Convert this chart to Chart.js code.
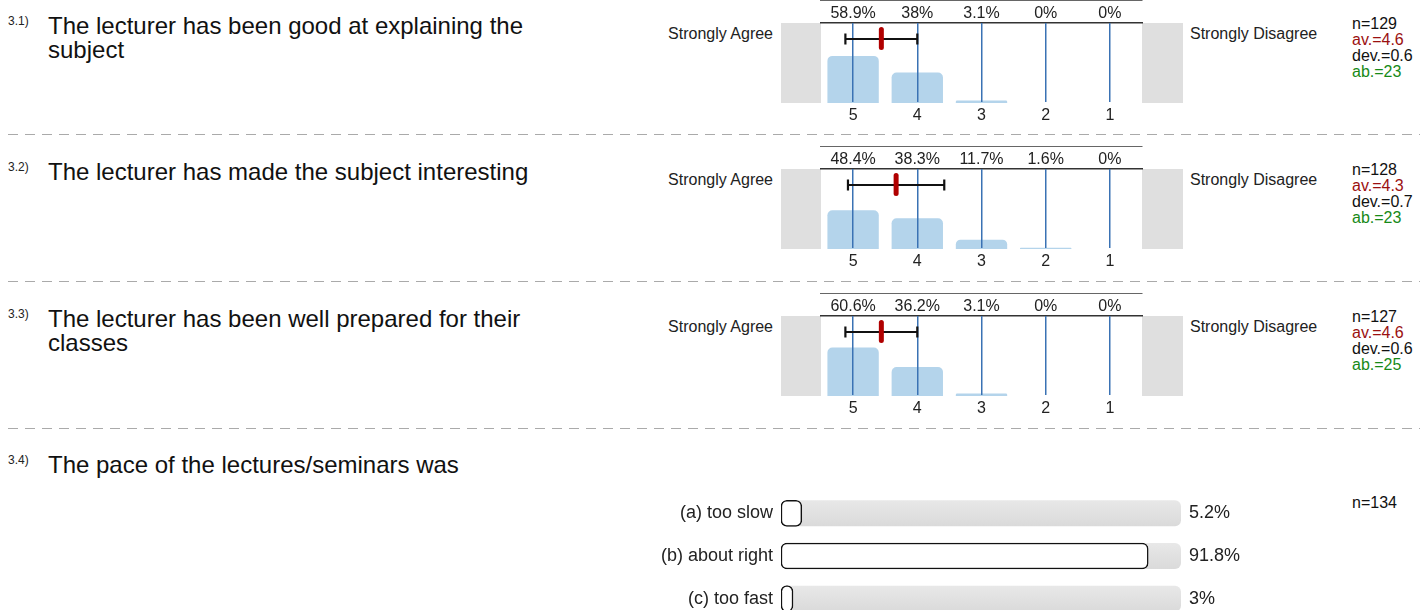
<!DOCTYPE html>
<html>
<head>
<meta charset="utf-8">
<script src="https://cdn.jsdelivr.net/npm/chart.js@4"></script>
<style>
  html, body { margin: 0; padding: 0; background: #fff; }
  body { width: 1420px; height: 610px; overflow: hidden; position: relative;
         font-family: 'Liberation Sans', Arial, sans-serif; color: #111; }
  .abs { position: absolute; white-space: nowrap; }
  .num { font-size: 12px; line-height: 12px; color: #222; }
  .q { font-size: 24px; line-height: 24px; width: 520px; white-space: normal; }
  .side { font-size: 16px; line-height: 16px; color: #222; }
  .stats { font-size: 16px; line-height: 16px; color: #111; }
  .av { color: #9b1010; }
  .ab { color: #178a17; }
  .sep { position: absolute; left: 8px; width: 1412px; height: 1px;
         background: repeating-linear-gradient(to right, #aaa 0 10px, transparent 10px 17px); }
  canvas { position: absolute; }
</style>
</head>
<body>
<script>
// DATA
const questionNums = ['3.1)', '3.2)', '3.3)', '3.4)'];
const questions = [
  'The lecturer has been good at explaining the subject',
  'The lecturer has made the subject interesting',
  'The lecturer has been well prepared for their classes',
  'The pace of the lectures/seminars was'
];
const scaleLabels = ['5', '4', '3', '2', '1'];
const q1Pct = [58.9, 38, 3.1, 0, 0];
const q2Pct = [48.4, 38.3, 11.7, 1.6, 0];
const q3Pct = [60.6, 36.2, 3.1, 0, 0];
const means = [4.56, 4.33, 4.56];
const devs = [0.56, 0.75, 0.56];
const counts = [129, 128, 127];
const avText = ['4.6', '4.3', '4.6'];
const devText = ['0.6', '0.7', '0.6'];
const abText = [23, 23, 25];

const paceLabels = ['(a) too slow', '(b) about right', '(c) too fast'];
const pacePct = [5.2, 91.8, 3];
const paceN = 134;

// layout
const sectionTops = [0, 146, 293];
const qTops = [14, 160, 307, 453];
const sepTops = [134, 281, 428];
const FONT = "'Liberation Sans', Arial";

function addDiv(cls, left, top, html) {
  const d = document.createElement('div');
  d.className = 'abs ' + cls;
  d.style.left = left + 'px';
  d.style.top = top + 'px';
  d.innerHTML = html;
  document.body.appendChild(d);
  return d;
}

questions.forEach((q, i) => {
  addDiv('num', 8, qTops[i] + 1, questionNums[i]);
  addDiv('q', 48, qTops[i], q);
});

sepTops.forEach(t => {
  const s = document.createElement('div');
  s.className = 'sep';
  s.style.top = t + 'px';
  document.body.appendChild(s);
});

// gray side panels + mean / deviation marker
const histoDecor = {
  id: 'histoDecor',
  beforeDraw(chart) {
    const { ctx, chartArea: a, width } = chart;
    ctx.save();
    ctx.fillStyle = '#dfdfdf';
    ctx.fillRect(0, a.top, a.left, a.bottom - a.top);
    ctx.fillRect(a.right, a.top, width - a.right, a.bottom - a.top);
    ctx.restore();
  },
  afterDraw(chart, args, opts) {
    const { ctx, chartArea: a } = chart;
    const x = chart.scales.x;
    const y = a.top + 16;
    const xl = x.getPixelForValue(5 - (opts.mean + opts.dev));
    const xr = x.getPixelForValue(5 - (opts.mean - opts.dev));
    const xm = x.getPixelForValue(5 - opts.mean);
    ctx.save();
    ctx.strokeStyle = '#111';
    ctx.lineWidth = 2.2;
    ctx.beginPath();
    ctx.moveTo(xl, y); ctx.lineTo(xr, y);
    ctx.moveTo(xl, y - 5.5); ctx.lineTo(xl, y + 5.5);
    ctx.moveTo(xr, y - 5.5); ctx.lineTo(xr, y + 5.5);
    ctx.stroke();
    ctx.strokeStyle = '#b00000';
    ctx.lineWidth = 5;
    ctx.lineCap = 'round';
    ctx.beginPath();
    ctx.moveTo(xm, y - 9.5); ctx.lineTo(xm, y + 8.5);
    ctx.stroke();
    ctx.restore();
  }
};

function histo(idx, pct) {
  const top = sectionTops[idx];
  const c = document.createElement('canvas');
  c.width = 402; c.height = 125;
  c.style.left = '781px'; c.style.top = top + 'px';
  document.body.appendChild(c);

  new Chart(c, {
    type: 'bar',
    data: {
      labels: scaleLabels,
      datasets: [{
        data: pct,
        backgroundColor: '#b4d4eb',
        borderRadius: { topLeft: 5, topRight: 5 },
        borderSkipped: 'bottom',
        barPercentage: 0.8,
        categoryPercentage: 1
      }]
    },
    options: {
      responsive: false,
      animation: false,
      layout: { padding: { left: 40, right: 41, top: 0, bottom: 0 } },
      plugins: {
        legend: { display: false },
        tooltip: { enabled: false },
        histoDecor: { mean: means[idx], dev: devs[idx] }
      },
      scales: {
        x: {
          position: 'bottom',
          grid: { offset: false, color: '#3a72b4', lineWidth: 1.5, drawTicks: false, z: 1 },
          border: { color: '#333', width: 1.5 },
          ticks: { color: '#222', font: { size: 16, family: FONT }, padding: 3 },
          afterFit(s) { s.height = 22; }
        },
        xTop: {
          type: 'category',
          position: 'top',
          offset: true,
          labels: pct.map(v => v + '%'),
          grid: { display: false, drawTicks: false },
          border: { color: '#333', width: 1.5 },
          ticks: { color: '#222', font: { size: 16, family: FONT }, padding: 0 },
          afterFit(s) { s.height = 23; }
        },
        y: { display: false, min: 0, max: 100 }
      }
    },
    plugins: [histoDecor]
  });

  addDiv('side', 0, top + 26, 'Strongly Agree').style.cssText +=
    ';left:auto;right:' + (1420 - 773) + 'px';
  addDiv('side', 1190, top + 26, 'Strongly Disagree');
  addDiv('stats', 1352, top + 16,
    'n=' + counts[idx] + '<br><span class="av">av.=' + avText[idx] + '</span><br>dev.=' +
    devText[idx] + '<br><span class="ab">ab.=' + abText[idx] + '</span>');
}

histo(0, q1Pct);
histo(1, q2Pct);
histo(2, q3Pct);

// pace chart: gray track behind each bar
const paceTrack = {
  id: 'paceTrack',
  beforeDatasetsDraw(chart) {
    const { ctx } = chart;
    const x = chart.scales.x, y = chart.scales.y;
    const x0 = x.getPixelForValue(0), x1 = x.getPixelForValue(100);
    ctx.save();
    paceLabels.forEach((l, i) => {
      const yc = y.getPixelForValue(i);
      const g = ctx.createLinearGradient(0, yc - 13, 0, yc + 13);
      g.addColorStop(0, '#e8e8e8');
      g.addColorStop(1, '#dadada');
      ctx.fillStyle = g;
      ctx.beginPath();
      ctx.roundRect(x0, yc - 13, x1 - x0, 26, 6);
      ctx.fill();
    });
    ctx.restore();
  }
};

function noVertPad(s) { s.paddingTop = 0; s.paddingBottom = 0; }

const pc = document.createElement('canvas');
pc.width = 630; pc.height = 128;
pc.style.left = '631px'; pc.style.top = '492px';
document.body.appendChild(pc);

new Chart(pc, {
  type: 'bar',
  data: {
    labels: paceLabels,
    datasets: [{
      data: pacePct,
      backgroundColor: '#ffffff',
      borderColor: '#111',
      borderWidth: 1.5,
      borderRadius: 6,
      borderSkipped: false,
      barThickness: 26
    }]
  },
  options: {
    indexAxis: 'y',
    responsive: false,
    animation: false,
    layout: { padding: 0 },
    plugins: { legend: { display: false }, tooltip: { enabled: false } },
    scales: {
      x: { display: false, min: 0, max: 100 },
      y: {
        grid: { display: false, drawTicks: false },
        border: { display: false },
        ticks: { color: '#222', font: { size: 18, family: FONT }, padding: 8 },
        afterFit(s) { s.width = 150; noVertPad(s); }
      },
      y2: {
        type: 'category',
        position: 'right',
        offset: true,
        labels: pacePct.map(v => v + '%'),
        grid: { display: false, drawTicks: false },
        border: { display: false },
        ticks: { color: '#222', font: { size: 18, family: FONT }, padding: 8 },
        afterFit(s) { s.width = 80; noVertPad(s); }
      }
    }
  },
  plugins: [paceTrack]
});

addDiv('stats', 1352, 495, 'n=' + paceN);
</script>
</body>
</html>
